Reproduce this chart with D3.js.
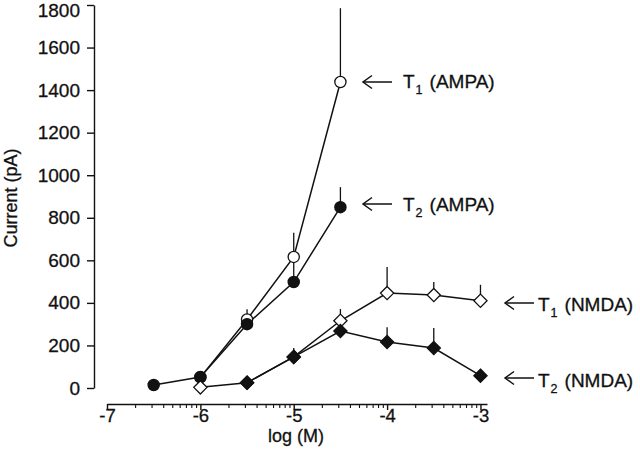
<!DOCTYPE html>
<html><head><meta charset="utf-8">
<script src="https://cdn.jsdelivr.net/npm/d3@7"></script>
<style>
body{margin:0;background:#fff}
svg{display:block}
text{font-family:"Liberation Sans",Arial,sans-serif;fill:#111;stroke:#111;stroke-width:0.3px}
</style>
</head><body>
<svg id="c" width="640" height="461"></svg>
<script>
// ---- data ----
const xTickValues = [-7, -6, -5, -4, -3];
const yTickValues = [0, 200, 400, 600, 800, 1000, 1200, 1400, 1600, 1800];

const t1AmpaX   = [-6, -5.5, -5, -4.5];
const t1AmpaY   = [50, 322, 616, 1438];
const t1AmpaErr = [0, 48, 114, 347];

const t2AmpaX   = [-6.5, -6, -5.5, -5, -4.5];
const t2AmpaY   = [14, 52, 300, 498, 850];
const t2AmpaErr = [0, 0, 35, 89, 94];

const t1NmdaX   = [-6, -5.5, -5, -4.5, -4, -3.5, -3];
const t1NmdaY   = [3, 25, 146, 316, 446, 437, 410];
const t1NmdaErr = [0, 0, 0, 55, 123, 61, 75];

const t2NmdaX   = [-5.5, -5, -4.5, -4, -3.5, -3];
const t2NmdaY   = [25, 146, 268, 216, 188, 58];
const t2NmdaErr = [0, 42, 0, 70, 94, 0];

const labelMain = ["T", "T", "T", "T"];
const labelSub  = ["1", "2", "1", "2"];
const labelTail = ["(AMPA)", "(AMPA)", "(NMDA)", "(NMDA)"];

// ---- layout ----
const series = [
  {x: t1AmpaX, y: t1AmpaY, e: t1AmpaErr, shape: "circle",  fill: "#fff"},
  {x: t2AmpaX, y: t2AmpaY, e: t2AmpaErr, shape: "circle",  fill: "#111"},
  {x: t1NmdaX, y: t1NmdaY, e: t1NmdaErr, shape: "diamond", fill: "#fff"},
  {x: t2NmdaX, y: t2NmdaY, e: t2NmdaErr, shape: "diamond", fill: "#111"}
];
const annArrowX = [363, 363, 505, 505];
const annArrowY = [82, 204, 303, 378];
const annTextX  = [403, 403, 538, 538];
const annTextY  = [88, 211, 311, 387];

const svg = d3.select("#c");
const x = d3.scaleLinear().domain([-7, -2.93]).range([107, 487]);
const y = d3.scaleLinear().domain([0, 1800]).range([388, 5]);
const ink = "#111";

// Y axis
const gy = svg.append("g").attr("transform", "translate(94,0)")
  .call(d3.axisLeft(y).tickValues(yTickValues).tickSize(7).tickPadding(7).tickSizeOuter(0)
    .tickFormat(d3.format("d")));
gy.attr("font-family", null).attr("font-size", null);
gy.selectAll("text").attr("font-size", 19).style("fill", ink)
  .attr("dy", d => d === 1800 ? "0.62em" : "0.32em");
gy.selectAll("line,path").attr("stroke", ink).attr("stroke-width", 1.4);

svg.append("text").attr("transform", "translate(16.5,198) rotate(-90)")
  .attr("text-anchor", "middle").attr("font-size", 18).text("Current (pA)");

// X axis (log scale of concentration): major + minor ticks
const minorTicks = [];
for (let n = -7; n < -3; n++) for (let k = 2; k <= 9; k++) minorTicks.push(n + Math.log10(k));

const gxm = svg.append("g").attr("transform", "translate(0,404)")
  .call(d3.axisBottom(x).tickValues(minorTicks).tickSize(4).tickFormat(""));
gxm.select(".domain").remove();
gxm.selectAll("line").attr("stroke", ink).attr("stroke-width", 1.1);

const gx = svg.append("g").attr("transform", "translate(0,404)")
  .call(d3.axisBottom(x).tickValues(xTickValues).tickSize(6).tickPadding(-1.3).tickSizeOuter(0)
    .tickFormat(d => String(d)));
gx.attr("font-family", null).attr("font-size", null);
gx.selectAll("text").attr("font-size", 18.5).style("fill", ink);
gx.selectAll("line,path").attr("stroke", ink).attr("stroke-width", 1.4);

svg.append("text").attr("x", 296).attr("y", 442).attr("text-anchor", "middle")
  .attr("font-size", 18).text("log (M)");

// error bars
series.forEach(s => {
  svg.append("g").selectAll("line").data(s.x.map((v, i) => i).filter(i => s.e[i] > 0))
    .join("line")
    .attr("x1", i => x(s.x[i])).attr("x2", i => x(s.x[i]))
    .attr("y1", i => y(s.y[i])).attr("y2", i => y(s.y[i] + s.e[i]))
    .attr("stroke", ink).attr("stroke-width", 1.3);
});

// lines
const line = d3.line();
series.forEach(s => {
  svg.append("path").datum(s.x.map((v, i) => [x(v), y(s.y[i])]))
    .attr("d", line).attr("fill", "none").attr("stroke", ink).attr("stroke-width", 1.5);
});

// markers
const circleSym = d3.symbol().type(d3.symbolCircle).size(Math.PI * 5.6 * 5.6);
const diamondPath = r => `M0,${-r}L${r},0L0,${r}L${-r},0Z`;
series.forEach(s => {
  const g = svg.append("g");
  s.x.forEach((v, i) => {
    const p = g.append("path")
      .attr("transform", `translate(${x(v)},${y(s.y[i])})`)
      .attr("fill", s.fill).attr("stroke", ink).attr("stroke-width", 1.3);
    if (s.shape === "circle") p.attr("d", circleSym());
    else p.attr("d", diamondPath(6.6));
  });
});

// annotations
labelMain.forEach((m, i) => {
  const ax = annArrowX[i], ay = annArrowY[i];
  svg.append("line").attr("x1", ax).attr("x2", ax + 29).attr("y1", ay).attr("y2", ay)
    .attr("stroke", ink).attr("stroke-width", 1.5);
  svg.append("path").attr("d", `M${ax + 9},${ay - 6.5}L${ax},${ay}L${ax + 9},${ay + 6.5}`)
    .attr("fill", "none").attr("stroke", ink).attr("stroke-width", 1.5);
  const t = svg.append("text").attr("x", annTextX[i]).attr("y", annTextY[i]).attr("font-size", 19);
  t.append("tspan").text(m);
  t.append("tspan").attr("font-size", 12.5).attr("dx", 1).attr("dy", 6).text(labelSub[i]);
  t.append("tspan").attr("dx", 7).attr("dy", -6).text(labelTail[i]);
});
</script>
</body></html>
